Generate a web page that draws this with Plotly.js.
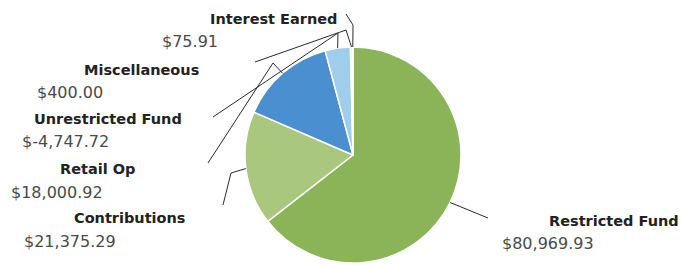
<!DOCTYPE html>
<html>
<head>
<meta charset="utf-8">
<script src="https://cdn.plot.ly/plotly-3.0.1.min.js"></script>
<style>
  html, body { margin: 0; padding: 0; background: #fff; overflow: hidden; }
  #chart { width: 681px; height: 266px; }
</style>
</head>
<body>
<div id="chart"></div>
<script>
// ---- data ----
const labels  = ['Restricted Fund', 'Contributions', 'Retail Op', 'Unrestricted Fund', 'Miscellaneous', 'Interest Earned'];
const amounts = [80969.93, 21375.29, 18000.92, -4747.72, 400.00, 75.91];
const colors  = ['#8bb357', '#a9c87d', '#4a8fcf', '#9fcdec', '#d9e9f5', '#eef5e4'];

// ---- layout (pixels in the 681x266 frame) ----
const W = 681, H = 266;
const CX = 353, CY = 155, R = 108;
const nameXY  = [[547, 221], [72, 218], [58, 169], [32, 119], [82, 70], [208, 19]];
const valueXY = [[500, 243], [22, 241], [9, 192], [20, 141], [35, 92], [160, 41]];
const leaderPts = [
  [[488, 218]],
  [[231, 173], [223, 205]],
  [[273, 63], [208, 163]],
  [[338, 33], [213, 117]],
  [[346, 30], [255, 62]],
  [[353, 25], [346, 14]]
];

const px = (x) => x / W;
const py = (y) => 1 - y / H;
const fmt = (v) => '$' + v.toLocaleString('en-US', {minimumFractionDigits: 2, maximumFractionDigits: 2});

const sizes = amounts.map(Math.abs);
const total = sizes.reduce((a, b) => a + b, 0);

// leader lines anchored at each slice's mid-angle on the rim
const shapes = [];
let cum = 0;
sizes.forEach((s, i) => {
  const mid = (cum + s / 2) / total * 2 * Math.PI;
  cum += s;
  const ax = CX + R * Math.sin(mid);
  const ay = CY - R * Math.cos(mid);
  let path = `M ${px(ax)} ${py(ay)}`;
  leaderPts[i].forEach(p => { path += ` L ${px(p[0])} ${py(p[1])}`; });
  shapes.push({type: 'path', xref: 'paper', yref: 'paper', path: path,
               line: {color: '#2a2a2a', width: 1}});
});

const annotations = [];
labels.forEach((lab, i) => {
  annotations.push({
    text: '<b>' + lab + '</b>', xref: 'paper', yref: 'paper',
    x: px(nameXY[i][0]), y: py(nameXY[i][1]), xanchor: 'left', yanchor: 'middle',
    showarrow: false, font: {family: 'DejaVu Sans', size: 14.5, color: '#222'}
  });
  annotations.push({
    text: fmt(amounts[i]), xref: 'paper', yref: 'paper',
    x: px(valueXY[i][0]), y: py(valueXY[i][1]), xanchor: 'left', yanchor: 'middle',
    showarrow: false, font: {family: 'DejaVu Sans', size: 16, color: '#4a4a4a'}
  });
});

const trace = {
  type: 'pie',
  labels: labels,
  values: sizes,
  sort: false,
  direction: 'clockwise',
  rotation: 0,
  textinfo: 'none',
  hoverinfo: 'label+value',
  marker: {colors: colors, line: {color: '#ffffff', width: 1.5}},
  domain: {x: [px(CX - R), px(CX + R)], y: [py(CY + R), py(CY - R)]},
  showlegend: false
};

Plotly.newPlot('chart', [trace], {
  width: W, height: H,
  margin: {l: 0, r: 0, t: 0, b: 0},
  paper_bgcolor: '#fff',
  showlegend: false,
  shapes: shapes,
  annotations: annotations
}, {displayModeBar: false, staticPlot: true});
</script>
</body>
</html>
